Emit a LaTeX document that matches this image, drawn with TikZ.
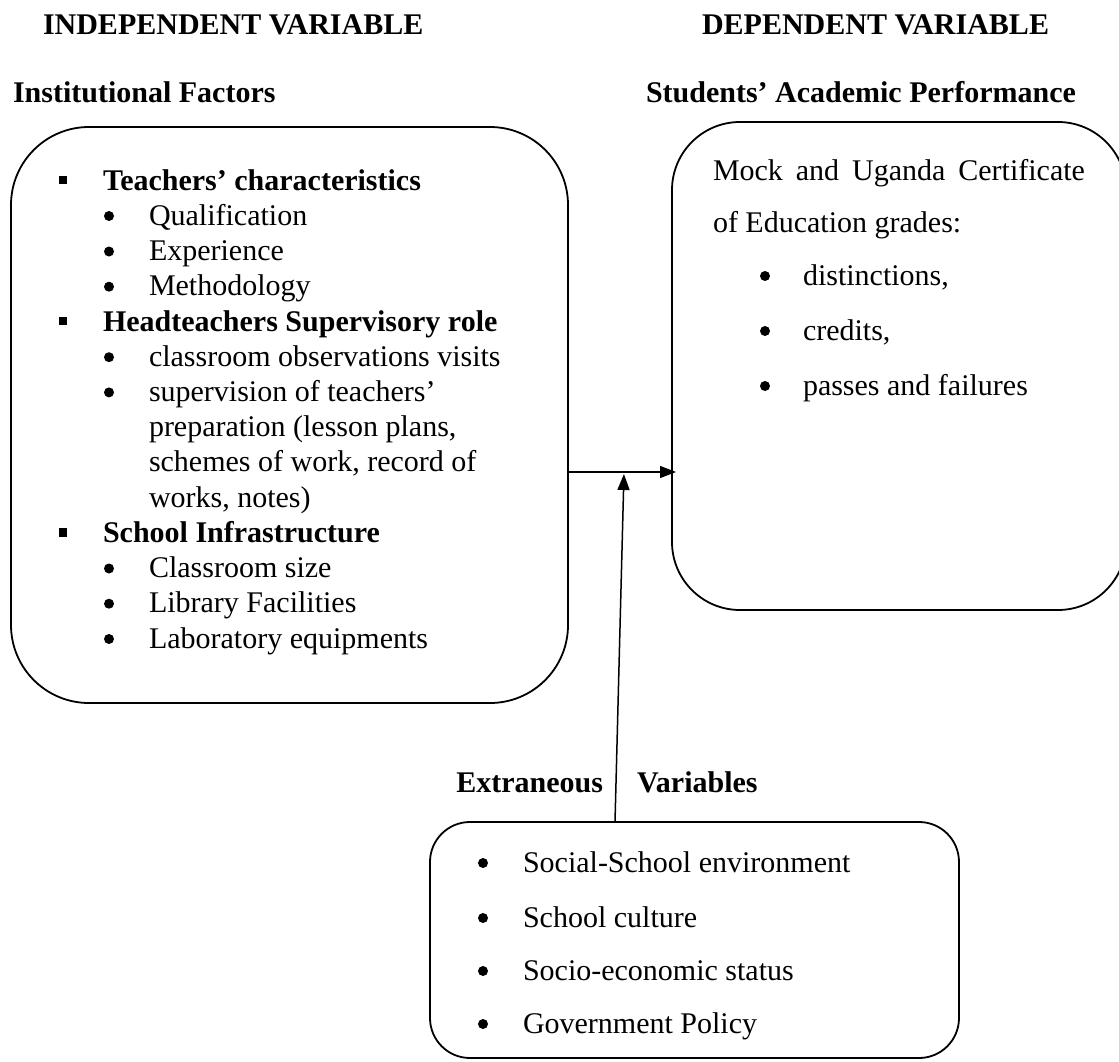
\documentclass[tikz,border=0pt]{standalone}
\usepackage{fontspec}
\setmainfont{Liberation Serif}
\usetikzlibrary{arrows.meta}
\begin{document}
\begin{tikzpicture}[x=1pt,y=-1pt,
  frame/.style={draw, line width=1.8pt, rounded corners=#1, inner sep=0pt, outer sep=0pt},
  txt/.style={anchor=base west, inner sep=0pt, outer sep=0pt, font=\fontsize{30}{35}\selectfont},
  btxt/.style={anchor=base west, inner sep=0pt, outer sep=0pt, font=\fontsize{30}{35}\selectfont\bfseries},
  dot/.style={circle, fill, inner sep=0pt, minimum size=10pt},
  sq/.style={rectangle, fill, inner sep=0pt, minimum size=8.5pt},
  link/.style={line width=1.5pt, -{Triangle[length=16pt,width=12pt]}}]
\useasboundingbox (0,0) rectangle (1119,1062);

% headings
\node[btxt] (hind) at (43,35) {INDEPENDENT VARIABLE};
\node[btxt] (hdep) at (702,35) {DEPENDENT VARIABLE};
\node[btxt] (hinst) at (13,103) {Institutional Factors};
\node[btxt] (hperf) at (646,103) {Students' Academic Performance};

% boxes
\node[frame=78pt, minimum width=557pt, minimum height=576pt] (lbox) at (289.5,415) {};
\node[frame=68pt, minimum width=454pt, minimum height=488pt] (rbox) at (899,366) {};
\node[frame=40pt, minimum width=529pt, minimum height=236pt] (bbox) at (694.5,940) {};

% left box content
\node[sq] (s1) at (63,180) {};
\node[btxt] (l0) at (103,190) {Teachers' characteristics};
\node[dot] (b1) at (109,216) {};
\node[txt] (l1) at (149,225.2) {Qualification};
\node[dot] (b2) at (109,251.5) {};
\node[txt] (l2) at (149,260.5) {Experience};
\node[dot] (b3) at (109,286.7) {};
\node[txt] (l3) at (149,295.7) {Methodology};
\node[sq] (s2) at (63,321) {};
\node[btxt] (l4) at (103,331) {Headteachers Supervisory role};
\node[dot] (b4) at (109,357.2) {};
\node[txt] (l5) at (149,366.2) {classroom observations visits};
\node[dot] (b5) at (109,392.4) {};
\node[txt] (l6) at (149,401.4) {supervision of teachers'};
\node[txt] (l7) at (149,436.6) {preparation (lesson plans,};
\node[txt] (l8) at (149,471.8) {schemes of work, record of};
\node[txt] (l9) at (149,507) {works, notes)};
\node[sq] (s3) at (63,532.3) {};
\node[btxt] (l10) at (103,542.3) {School Infrastructure};
\node[dot] (b6) at (109,568.5) {};
\node[txt] (l11) at (149,577.5) {Classroom size};
\node[dot] (b7) at (109,603.7) {};
\node[txt] (l12) at (149,612.7) {Library Facilities};
\node[dot] (b8) at (109,639) {};
\node[txt] (l13) at (149,648) {Laboratory equipments};

% right box content
\node[txt] (r1) at (713,180) {\makebox[372pt][s]{Mock and Uganda Certificate}};
\node[txt] (r2) at (713,232) {of Education grades:};
\node[dot] (rb1) at (765,276) {};
\node[txt] (r3) at (803,285) {distinctions,};
\node[dot] (rb2) at (765,331) {};
\node[txt] (r4) at (803,340) {credits,};
\node[dot] (rb3) at (765,386) {};
\node[txt] (r5) at (803,395) {passes and failures};

% extraneous
\node[btxt, anchor=base east] (ex1) at (603,792) {Extraneous};
\node[btxt] (ex2) at (637,792) {Variables};
\node[dot] (eb1) at (483,863) {};
\node[txt] (e1) at (523,872) {Social-School environment};
\node[dot] (eb2) at (483,918) {};
\node[txt] (e2) at (523,927) {School culture};
\node[dot] (eb3) at (483,971) {};
\node[txt] (e3) at (523,980) {Socio-economic status};
\node[dot] (eb4) at (483,1024) {};
\node[txt] (e4) at (523,1033) {Government Policy};

% connectors
\coordinate (hy) at (0,472);
\coordinate (vb) at (615,0);
\coordinate (vt) at (624,0);
\draw[link] (lbox.east |- hy) -- ([xshift=4pt]rbox.west |- hy);
\draw[link, shorten >=2pt] (bbox.north -| vb) -- (vt |- hy);
\end{tikzpicture}
\end{document}
